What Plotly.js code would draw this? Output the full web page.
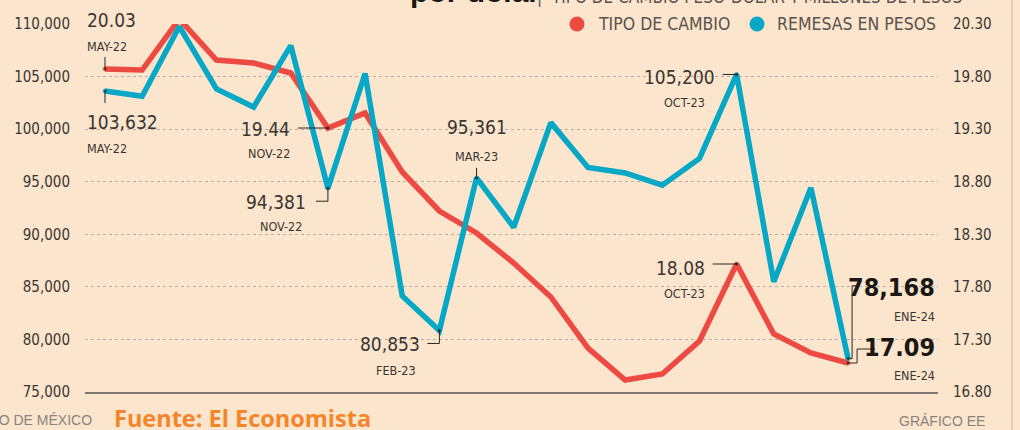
<!DOCTYPE html>
<html>
<head>
<meta charset="utf-8">
<script src="https://cdn.plot.ly/plotly-3.0.1.min.js"></script>
<style>
html,body{margin:0;padding:0;background:#FCE5CD;overflow:hidden;}
#chart{width:1020px;height:430px;}
</style>
</head>
<body>
<div id="chart"></div>
<script>
// ---------- DATA ----------
const months = ['MAY-22','JUN-22','JUL-22','AGO-22','SEP-22','OCT-22','NOV-22','DIC-22',
  'ENE-23','FEB-23','MAR-23','ABR-23','MAY-23','JUN-23','JUL-23','AGO-23','SEP-23','OCT-23','NOV-23','DIC-23',
  'ENE-24'];
const tipoCambio = [20.03, 20.02, 20.53, 20.12, 20.09, 19.99, 19.44, 19.59, 19.00, 18.61, 18.39,
  18.09, 17.75, 17.24, 16.92, 16.98, 17.31, 18.08, 17.38, 17.19, 17.09];
const remesas = [103632, 103120, 109760, 103830, 102100, 107950, 94381, 105290, 84140, 80853, 95361,
  90670, 100620, 96360, 95830, 94670, 97220, 105200, 85480, 94430, 78168];
const leftTicks = [75000, 80000, 85000, 90000, 95000, 100000, 105000, 110000];
const rightTickLabels = ['16.80','17.30','17.80','18.30','18.80','19.30','19.80','20.30'];
const legendLabels = ['TIPO DE CAMBIO', 'REMESAS EN PESOS'];
const tcCallouts = [0, 6, 17, 20];
const rmCallouts = [0, 6, 9, 10, 17, 20];

// ---------- STYLE ----------
const RED = '#EC4A43', BLUE = '#07A8C6', INK = '#3a3531', BG = '#FCE5CD';
const NARROW = '"Liberation Sans Narrow", "DejaVu Sans Condensed", "Roboto Condensed", Roboto, sans-serif';
const M = {l:85, r:82, t:24, b:38};
const W = 1020, H = 430;
const PW = W - M.l - M.r, PH = H - M.t - M.b;
const yL = [75000, 110000];
const yR = [16.80, 20.48];
const xRange = [-0.538, 22.42];
const px = p => (p - M.l) / PW;          // pixel x -> paper
const py = p => (H - M.b - p) / PH;      // pixel y -> paper

const xIdx = months.map((_, i) => i);
const rightTickVals = leftTicks.map(v => yR[0] + (v - yL[0]) / (yL[1] - yL[0]) * (yR[1] - yR[0]));

const tcSizes = xIdx.map(i => tcCallouts.includes(i) ? 4 : 0);
const rmSizes = xIdx.map(i => rmCallouts.includes(i) ? 4 : 0);

const traces = [
  {x: xIdx, y: tipoCambio, yaxis: 'y', type: 'scatter', mode: 'lines+markers', name: legendLabels[0],
   line: {color: RED, width: 5.5}, marker: {color: '#111', size: tcSizes}, hoverinfo: 'skip'},
  {x: xIdx, y: remesas, yaxis: 'y2', type: 'scatter', mode: 'lines+markers', name: legendLabels[1],
   line: {color: BLUE, width: 5.5}, marker: {color: '#111', size: rmSizes}, hoverinfo: 'skip'}
];

const annotations = [];
const shapes = [];

const VAL_SIZE = 19, BIG_SIZE = 25, DATE_SIZE = 12.5;

// callout layout: [kind, index, valueAnchor, vdx, vdy, dateAnchor, ddx, ddy, path, big]
const calloutLayout = [
  ['tc', 0, 'left', -20, 49, 'left', -20, 23, 'M0,0V12', false],
  ['rm', 0, 'left', -20, -31, 'left', -20, -58, 'M0,0V-12', false],
  ['tc', 6, 'right', -36, -1, 'right', -36, -25, 'M0,0H-30', false],
  ['rm', 6, 'right', -20, -13.5, 'right', -24, -38.5, 'M0,0V-13H-12', false],
  ['rm', 10, 'center', 0, 50.5, 'center', 0, 21.5, 'M0,0V10', false],
  ['rm', 9, 'right', -17.5, -13.5, 'center', -43, -40.5, 'M0,0V-13H-12', false],
  ['rm', 17, 'right', -20, -3, 'center', -52, -28, 'M0,0H-14', false],
  ['tc', 17, 'right', -30, -3.5, 'center', -52, -29, 'M0,0H-24', false],
  ['rm', 20, 'right', 89, 70.7, 'right', 89, 42.5, 'M0,0H4V73H10', true],
  ['tc', 20, 'right', 89, 15.3, 'right', 89, -12.5, 'M0,0H9V14H27', true]
];

calloutLayout.forEach(([kind, i, va, vdx, vdy, da, ddx, ddy, path, big]) => {
  const isTC = kind === 'tc';
  const yref = isTC ? 'y' : 'y2';
  const val = isTC ? tipoCambio[i] : remesas[i];
  const txt = isTC ? val.toFixed(2) : val.toLocaleString('en-US');
  annotations.push({xref: 'x', yref: yref, x: i, y: val, text: big ? '<b>' + txt + '</b>' : txt,
    showarrow: false, xanchor: va, yanchor: 'middle', xshift: vdx, yshift: vdy,
    font: {family: NARROW, size: big ? BIG_SIZE : VAL_SIZE, color: big ? '#1a1715' : INK}});
  annotations.push({xref: 'x', yref: yref, x: i, y: val, text: months[i],
    showarrow: false, xanchor: da, yanchor: 'middle', xshift: ddx, yshift: ddy,
    font: {family: NARROW, size: DATE_SIZE, color: INK}});
  shapes.push({type: 'path', xref: 'x', yref: yref, xsizemode: 'pixel', ysizemode: 'pixel',
    xanchor: i, yanchor: val, path: path, line: {color: '#2a2522', width: 1}});
});

// legend
const legendColors = [RED, BLUE];
const legendDotPx = [577, 757];
legendDotPx.forEach((p, k) => {
  shapes.push({type: 'circle', xref: 'paper', yref: 'paper', xsizemode: 'pixel', ysizemode: 'pixel',
    xanchor: px(p), yanchor: py(24), x0: -7.5, x1: 7.5, y0: -7.5, y1: 7.5,
    fillcolor: legendColors[k], line: {width: 0}});
});
annotations.push({xref: 'paper', yref: 'paper', x: px(596), y: py(24), xanchor: 'left', yanchor: 'middle',
  text: legendLabels[0], showarrow: false, font: {family: NARROW, size: 17.5, color: '#5a524c'}});
annotations.push({xref: 'paper', yref: 'paper', x: px(938), y: py(24), xanchor: 'right', yanchor: 'middle',
  text: legendLabels[1], showarrow: false, font: {family: NARROW, size: 17.5, color: '#5a524c'}});

// titles cut at top
annotations.push({xref: 'paper', yref: 'paper', x: px(408), y: py(-9), xanchor: 'left', yanchor: 'middle',
  text: '<b>por dólar</b>', showarrow: false, font: {family: 'Liberation Sans, Arial, sans-serif', size: 30, color: '#1a1715'}});
annotations.push({xref: 'paper', yref: 'paper', x: px(535), y: py(-4), xanchor: 'left', yanchor: 'middle',
  text: '|  TIPO DE CAMBIO PESO-DÓLAR Y MILLONES DE PESOS', showarrow: false,
  font: {family: NARROW, size: 17, color: '#5a524c'}});

// footer
annotations.push({xref: 'paper', yref: 'paper', x: px(94), y: py(420), xanchor: 'right', yanchor: 'middle',
  text: 'FUENTE: BANCO DE MÉXICO', showarrow: false, font: {family: 'Liberation Sans, Arial, sans-serif', size: 14, color: '#8a827b'}});
annotations.push({xref: 'paper', yref: 'paper', x: px(112), y: py(418), xanchor: 'left', yanchor: 'middle',
  text: '<b>Fuente: El Economista</b>', showarrow: false, font: {family: '"Open Sans", "Liberation Sans", sans-serif', size: 23.5, color: '#F4852A'}});
annotations.push({xref: 'paper', yref: 'paper', x: px(987), y: py(421), xanchor: 'right', yanchor: 'middle',
  text: 'GRÁFICO EE', showarrow: false, font: {family: 'Liberation Sans, Arial, sans-serif', size: 14, color: '#8a827b'}});

// right panel border
shapes.push({type: 'line', xref: 'paper', yref: 'paper', x0: px(1012), x1: px(1012), y0: py(440), y1: py(-10),
  line: {color: '#d9c6b3', width: 1.5}});

const layout = {
  width: W, height: H,
  margin: M,
  paper_bgcolor: BG, plot_bgcolor: BG,
  showlegend: false,
  xaxis: {range: xRange, showticklabels: false, showgrid: false, zeroline: false, ticks: '',
    showline: true, linecolor: '#7e7771', linewidth: 2, fixedrange: true},
  yaxis: {range: yR, side: 'right', tickmode: 'array', tickvals: rightTickVals, ticktext: rightTickLabels,
    showgrid: true, gridcolor: '#b9aea4', griddash: '3px,3px', gridwidth: 1, zeroline: false,
    ticks: '', ticklabelstandoff: 14, tickfont: {family: NARROW, size: 15, color: INK}, fixedrange: true},
  yaxis2: {range: yL, overlaying: 'y', side: 'left', tickmode: 'array', tickvals: leftTicks, tickformat: ',d',
    showgrid: false, zeroline: false, ticks: '', ticklabelstandoff: 14,
    tickfont: {family: NARROW, size: 15, color: INK}, fixedrange: true},
  annotations: annotations,
  shapes: shapes
};

Plotly.newPlot('chart', traces, layout, {staticPlot: true, displayModeBar: false});
</script>
</body>
</html>
